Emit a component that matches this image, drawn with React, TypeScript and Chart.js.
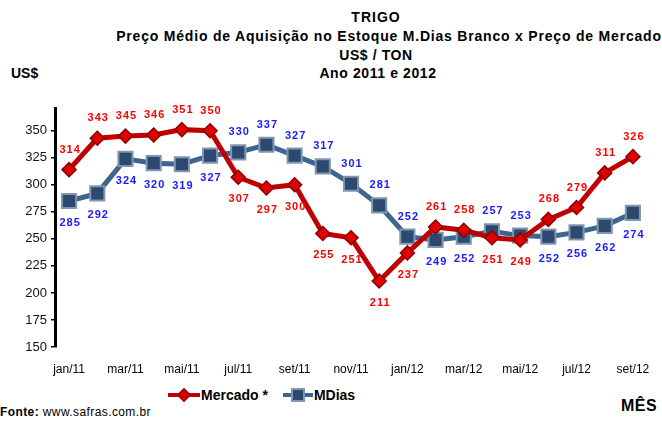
import React, { useEffect, useRef } from "react";
import { Chart, registerables } from "chart.js";

Chart.register(...registerables);

const months = [
  "jan/11", "fev/11", "mar/11", "abr/11", "mai/11", "jun/11", "jul/11", "ago/11", "set/11", "out/11", "nov/11", "dez/11",
  "jan/12", "fev/12", "mar/12", "abr/12", "mai/12", "jun/12", "jul/12", "ago/12", "set/12",
];
const mercado = [314, 343, 345, 346, 351, 350, 307, 297, 300, 255, 251, 211, 237, 261, 258, 251, 249, 268, 279, 311, 326];
const mdias = [285, 292, 324, 320, 319, 327, 330, 337, 327, 317, 301, 281, 252, 249, 252, 257, 253, 252, 256, 262, 274];
const yTicks = [150, 175, 200, 225, 250, 275, 300, 325, 350];

// label placement: 1 = above, -1 = below
const mercadoLabelSide = [1, 1, 1, 1, 1, 1, -1, -1, -1, -1, -1, -1, -1, 1, 1, -1, -1, 1, 1, 1, 1];
const mdiasLabelSide = [-1, -1, -1, -1, -1, -1, 1, 1, 1, 1, 1, 1, 1, -1, -1, 1, 1, -1, -1, -1, -1];

const RED_LINE = "#c00000";
const BLUE_LINE = "#3d6591";

const labelPlugin = {
  id: "valueLabels",
  afterDatasetsDraw(chart: any) {
    const ctx = chart.ctx;
    ctx.save();
    ctx.font = "bold 11px 'Liberation Sans', Arial, sans-serif";
    try { (ctx as any).letterSpacing = "1px"; } catch (e) {}
    ctx.textAlign = "center";
    ctx.textBaseline = "middle";
    const sets = [
      { idx: 0, color: "#ff0000", sides: mercadoLabelSide },
      { idx: 1, color: "#1a1aff", sides: mdiasLabelSide },
    ];
    sets.forEach((s) => {
      const meta = chart.getDatasetMeta(s.idx);
      const data = chart.data.datasets[s.idx].data as number[];
      ctx.fillStyle = s.color;
      meta.data.forEach((pt: any, i: number) => {
        const off = s.sides[i] > 0 ? -20 : 22;
        ctx.fillText(String(data[i]), pt.x + 1, pt.y + off);
      });
    });
    ctx.restore();
  },
};

export default function App() {
  const ref = useRef<HTMLCanvasElement | null>(null);

  useEffect(() => {
    if (!ref.current) return;
    const chart = new Chart(ref.current, {
      type: "line",
      data: {
        labels: months,
        datasets: [
          {
            label: "Mercado *",
            data: mercado,
            borderColor: RED_LINE,
            borderWidth: 5,
            pointStyle: "rectRot",
            pointRadius: 7,
            pointBackgroundColor: "#e00000",
            pointBorderColor: "#8a0000",
            pointBorderWidth: 1.5,
            tension: 0,
          },
          {
            label: "MDias",
            data: mdias,
            borderColor: BLUE_LINE,
            borderWidth: 5,
            pointStyle: "rect",
            pointRadius: 10,
            pointBackgroundColor: "#2c4a70",
            pointBorderColor: "#8196b2",
            pointBorderWidth: 2,
            tension: 0,
          },
        ],
      },
      options: {
        animation: false,
        responsive: false,
        maintainAspectRatio: false,
        layout: { padding: { top: 23, right: 15, left: 0, bottom: 0 } },
        plugins: { legend: { display: false }, tooltip: { enabled: false }, title: { display: false } },
        scales: {
          x: {
            type: "category",
            offset: true,
            grid: { display: false },
            border: { display: false },
            afterFit: (s: any) => { s.height = 30; },
            ticks: {
              autoSkip: false,
              maxRotation: 0,
              padding: 7,
              color: "#000",
              font: { family: "'Liberation Sans', Arial, sans-serif", size: 12 },
              callback: (v: any, i: number) => (i % 2 === 0 ? months[i] : ""),
            },
          },
          y: {
            min: 150,
            max: 371,
            afterFit: (s: any) => { s.width = 55; },
            afterBuildTicks: (s: any) => { s.ticks = yTicks.map((v) => ({ value: v })); },
            grid: { display: true, drawOnChartArea: false, drawTicks: true, tickLength: 4, color: "#000", lineWidth: 1.5 },
            border: { display: true, color: "#000", width: 3 },
            ticks: {
              padding: 4,
              color: "#111",
              font: { family: "'Liberation Sans', Arial, sans-serif", size: 13 },
            },
          },
        },
      },
      plugins: [labelPlugin],
    });
    return () => chart.destroy();
  }, []);

  const base: React.CSSProperties = {
    position: "absolute",
    whiteSpace: "nowrap",
    fontFamily: "'Liberation Sans', Arial, sans-serif",
    color: "#000",
    lineHeight: 1,
  };
  const titleLine = (top: number, size: number, center: number, spacing: number): React.CSSProperties => ({
    ...base,
    top,
    left: center,
    transform: "translateX(-50%)",
    fontWeight: "bold",
    fontSize: size,
    letterSpacing: spacing + "px",
  });

  return (
    <div style={{ position: "fixed", left: 0, top: 0, width: 662, height: 421, background: "#fff", overflow: "hidden" }}>
      <div style={titleLine(10, 14, 376, 1)}>TRIGO</div>
      <div style={titleLine(29, 14, 389, 0.8)}>Preço Médio de Aquisição  no Estoque M.Dias Branco x Preço de Mercado</div>
      <div style={titleLine(48, 14, 376, 0.6)}>US$ / TON</div>
      <div style={titleLine(66, 14, 378, 0.6)}>Ano 2011 e 2012</div>
      <div style={{ ...base, top: 66, left: 11, fontWeight: "bold", fontSize: 14 }}>US$</div>
      <canvas ref={ref} width={662} height={292} style={{ position: "absolute", left: 0, top: 85, width: 662, height: 292 }} />
      {/* legend */}
      <div style={{ ...base, top: 388, left: 168, display: "flex", alignItems: "center" }}>
        <div style={{ position: "relative", width: 32, height: 14 }}>
          <div style={{ position: "absolute", left: 0, top: 5, width: 32, height: 4, background: RED_LINE }} />
          <div style={{ position: "absolute", left: 11, top: 2, width: 10, height: 10, background: "#d00000", transform: "rotate(45deg)", border: "1px solid #8a0000", boxSizing: "border-box" }} />
        </div>
        <span style={{ fontWeight: "bold", fontSize: 14, marginLeft: 1 }}>Mercado *</span>
        <div style={{ position: "relative", width: 30, height: 14, marginLeft: 15 }}>
          <div style={{ position: "absolute", left: 0, top: 5, width: 30, height: 4, background: BLUE_LINE }} />
          <div style={{ position: "absolute", left: 8, top: 0, width: 14, height: 14, background: "#2c4a70", border: "2px solid #8196b2", boxSizing: "border-box" }} />
        </div>
        <span style={{ fontWeight: "bold", fontSize: 14, marginLeft: 1 }}>MDias</span>
      </div>
      <div style={{ ...base, top: 406, left: 0, fontSize: 12, letterSpacing: "0.4px" }}>
        <b>Fonte:</b> www.safras.com.br
      </div>
      <div style={{ ...base, top: 398, left: 621, fontWeight: "bold", fontSize: 16, letterSpacing: "0.5px" }}>MÊS</div>
    </div>
  );
}
